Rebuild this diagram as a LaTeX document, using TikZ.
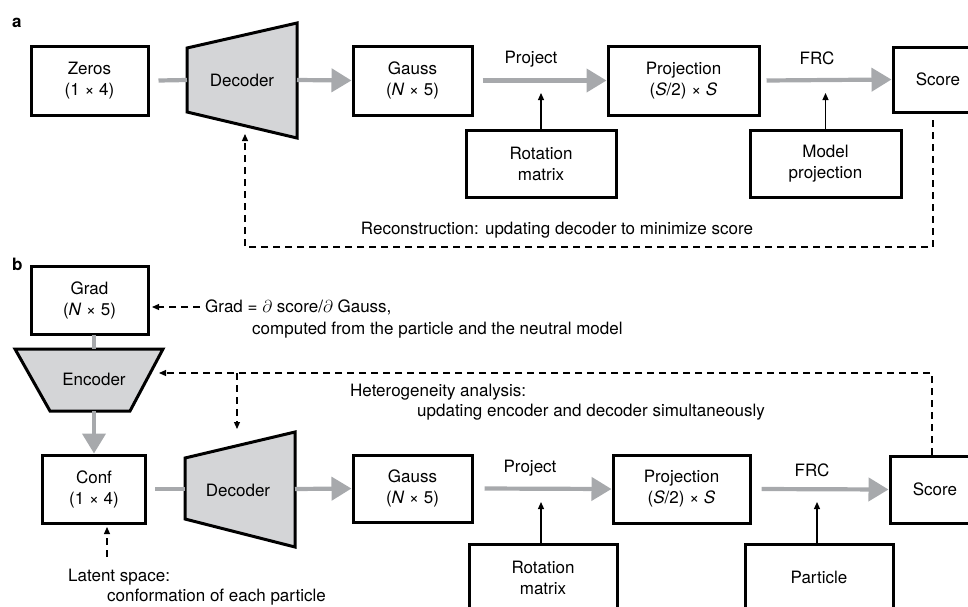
\documentclass[tikz,border=0pt]{standalone}
\usepackage{fontspec}
\setmainfont{TeX Gyre Heros}
\usetikzlibrary{arrows.meta}
\definecolor{flowgray}{HTML}{A7A9AC}
\definecolor{trapfill}{HTML}{D4D5D7}
\begin{document}
\begin{tikzpicture}[x=1pt,y=-1pt,
  every node/.style={font=\fontsize{17}{21}\selectfont, inner sep=0pt},
  box/.style={draw, line width=3pt, align=center},
  trap/.style={draw, line width=3pt, fill=trapfill, line join=miter},
  flow/.style={draw=flowgray, line width=4.2pt, -{Triangle[length=20pt,width=23pt]}},
  flowline/.style={draw=flowgray, line width=4.2pt},
  thinarrow/.style={draw, line width=1.2pt, -{Triangle[length=7pt,width=6pt]}},
  dashline/.style={draw, line width=1.2pt, dash pattern=on 7pt off 5pt},
  dasharrow/.style={dashline, -{Triangle[length=7pt,width=6pt]}},
  lbl/.style={font=\fontsize{17}{21}\selectfont\bfseries, anchor=base west},
  txt/.style={anchor=west}
]
\useasboundingbox (0,0) rectangle (968,606);
\clip (0,0) rectangle (968,606);

% ---------------- panel a ----------------
\node[lbl] (la) at (12,27) {a};
\node[box, minimum width=117pt, minimum height=69pt] (zeros) at (89.5,80.5) {Zeros\\(1 × 4)};
\draw[trap] (187,48) -- (297,23) -- (297,138) -- (187,112) -- cycle;
\node (deca) at (242,80) {Decoder};
\coordinate (decaW) at (187,80);
\coordinate (decaE) at (297,80);
\node[box, minimum width=119pt, minimum height=69pt] (gaussa) at (412.5,80.5) {Gauss\\(\textit{N} × 5)};
\node[box, minimum width=151pt, minimum height=69pt] (proja) at (683.5,80.5) {Projection\\(\textit{S}/2) × \textit{S}};
\node[box, minimum width=90pt, minimum height=65pt] (scorea) at (938,79.5) {Score};
\node[box, minimum width=150pt, minimum height=67pt] (rota) at (541,163.5) {Rotation\\matrix};
\node[box, minimum width=151pt, minimum height=67pt] (modp) at (825.5,163.5) {Model\\projection};
\node (projlbla) at (531,59) {Project};
\node (frclbla) at (817,58) {FRC};

\draw[flowline] ([xshift=9pt]zeros.east) -- (decaW);
\draw[flow] (decaE) -- (gaussa.west);
\draw[flow] ([xshift=9pt]gaussa.east) -- (proja.west);
\draw[flow] ([xshift=6pt]proja.east) -- (scorea.west);
\coordinate (rotaTip) at (541,93);
\coordinate (modpTip) at (825.5,93);
\draw[thinarrow] (rota.north) -- (rotaTip);
\draw[thinarrow] (modp.north) -- (modpTip);

\coordinate (fbaS) at (933,120);
\coordinate (fbaC1) at (933,247);
\coordinate (fbaC2) at (245,247);
\coordinate (fbaTip) at (245,134);
\draw[dasharrow] (fbaS) -- (fbaC1) -- (fbaC2) -- (fbaTip);
\node (recon) at (557,230) {Reconstruction: updating decoder to minimize score};

% ---------------- panel b ----------------
\node[lbl] (lb) at (12,270) {b};
\node[box, minimum width=117pt, minimum height=68pt] (grad) at (89.5,300) {Grad\\(\textit{N} × 5)};
\node[txt] (gradeq) at (205,307) {Grad = $\partial$ score/$\partial$ Gauss,};
\node[txt] (gradeq2) at (252,330) {computed from the particle and the neutral model};
\coordinate (gradEqS) at (200,307);
\coordinate (gradTip) at (152,307);
\draw[dasharrow] (gradEqS) -- (gradTip);

\draw[trap] (15,349) -- (163,349) -- (130,411) -- (50,411) -- cycle;
\node (enc) at (94,379) {Encoder};
\coordinate (gradS) at (94,335);
\coordinate (encT) at (94,349);
\coordinate (encB) at (94,411);
\draw[flowline] (gradS) -- (encT);

\node[box, minimum width=103pt, minimum height=68pt] (conf) at (94,489) {Conf\\(1 × 4)};
\draw[flow] (encB) -- (conf.north);

\draw[trap] (185,458) -- (295,432) -- (295,547) -- (185,519) -- cycle;
\node (decb) at (238,490) {Decoder};
\coordinate (decbW) at (185,489);
\coordinate (decbE) at (295,489);
\node[box, minimum width=119pt, minimum height=67pt] (gaussb) at (412.5,488.5) {Gauss\\(\textit{N} × 5)};
\node[box, minimum width=137pt, minimum height=68pt] (projb) at (681.5,489) {Projection\\(\textit{S}/2) × \textit{S}};
\node[box, minimum width=90pt, minimum height=67pt] (scoreb) at (935,489.5) {Score};
\node[box, minimum width=148pt, minimum height=67pt] (rotb) at (543,577.5) {Rotation\\matrix};
\node[box, minimum width=148pt, minimum height=67pt] (part) at (819,577.5) {Particle};
\node (projlblb) at (530,468) {Project};
\node (frclblb) at (812,470) {FRC};

\draw[flowline] ([xshift=8pt]conf.east) -- (decbW);
\draw[flow] (decbE) -- (gaussb.west);
\draw[flow] ([xshift=11pt]gaussb.east) -- (projb.west);
\draw[flow] ([xshift=10pt]projb.east) -- (scoreb.west);
\coordinate (rotbTip) at (541,502);
\coordinate (partTip) at (817,502);
\coordinate (rotbS) at (541,544);
\coordinate (partS) at (817,544);
\draw[thinarrow] (rotbS) -- (rotbTip);
\draw[thinarrow] (partS) -- (partTip);

\coordinate (fbbS) at (932,455);
\coordinate (fbbC1) at (932,373);
\coordinate (fbbTip) at (159,373);
\coordinate (fbbJ) at (237,373);
\coordinate (fbbDec) at (237,429);
\draw[dasharrow] (fbbS) -- (fbbC1) -- (fbbTip);
\draw[dasharrow] (fbbJ) -- (fbbDec);
\node[txt] (het1) at (350,392) {Heterogeneity analysis:};
\node[txt] (het2) at (417,412) {updating encoder and decoder simultaneously};

\coordinate (latS) at (107,557);
\coordinate (latTip) at (107,527);
\draw[dasharrow] (latS) -- (latTip);
\node[txt] (lat1) at (68,577) {Latent space:};
\node[txt] (lat2) at (107,597) {conformation of each particle};
\end{tikzpicture}
\end{document}
